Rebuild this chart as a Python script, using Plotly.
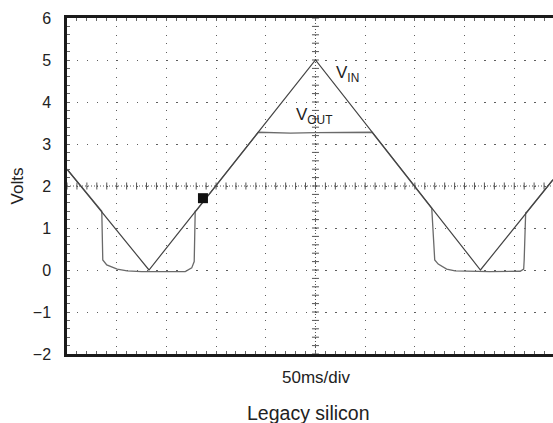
import numpy as np
import plotly.graph_objects as go

# Time base: 50 ms per division; amplitude in volts
vin_t = [0, 82.5, 250, 416, 489]
vin_v = [2.40, 0.0, 5.0, 0.0, 2.15]

vout_t = [0, 35, 36, 40, 50.5, 60.5, 75, 101.5, 119, 125.5, 128, 129, 130,
          192.5, 225, 250, 275, 307, 367, 370, 373.5, 382, 390.5, 425, 456,
          459.5, 460, 461.5, 462.5, 489]
vout_v = [2.40, 1.40, 0.24, 0.12, 0.02, -0.02, -0.04, -0.03, -0.04, 0.05, 0.20,
          1.40, 1.41, 3.28, 3.26, 3.27, 3.27, 3.28, 1.47, 0.24, 0.14, 0.02,
          -0.02, -0.04, -0.03, 0.02, 0.24, 1.36, 1.38, 2.15]

trig_t = [136.8]
trig_v = [1.71]

y_ticks = [-2, -1, 0, 1, 2, 3, 4, 5, 6]
x_range = [0, 489]
y_range = [-2, 6]
center_t = 250
center_v = 2

FONT = "Liberation Sans, Arial, Helvetica, sans-serif"
INK = "#222222"
GRID = "#5e5e5e"

fig = go.Figure()

# graticule centre cross with its fine division marks
fig.add_shape(type="line", x0=x_range[0], x1=x_range[1], y0=center_v, y1=center_v,
              line=dict(color="#555555", width=1, dash="1px,2px"), layer="below")
fig.add_shape(type="line", x0=center_t, x1=center_t, y0=y_range[0], y1=y_range[1],
              line=dict(color="#555555", width=1, dash="1px,2px"), layer="below")
ht = np.arange(0, 490, 10)
fig.add_trace(go.Scatter(x=ht, y=[center_v] * len(ht), mode="markers", hoverinfo="skip",
                         marker=dict(symbol="line-ns", size=5,
                                     line=dict(color="#555555", width=1)),
                         showlegend=False))
vt = np.arange(-2, 6.01, 0.2)
fig.add_trace(go.Scatter(x=[center_t] * len(vt), y=vt, mode="markers", hoverinfo="skip",
                         marker=dict(symbol="line-ew", size=5,
                                     line=dict(color="#555555", width=1)),
                         showlegend=False))

# waveforms
fig.add_trace(go.Scatter(x=vout_t, y=vout_v, mode="lines", name="VOUT",
                         line=dict(color="#6a6a6a", width=1.3), showlegend=False))
fig.add_trace(go.Scatter(x=vin_t, y=vin_v, mode="lines", name="VIN",
                         line=dict(color="#444444", width=1.2), showlegend=False))

# trigger marker
fig.add_trace(go.Scatter(x=trig_t, y=trig_v, mode="markers", showlegend=False,
                         marker=dict(symbol="square", size=10, color="#111111")))

fig.add_annotation(x=268.6, y=4.67, xref="x", yref="y", text="V<sub>IN</sub>",
                   showarrow=False, xanchor="left", yanchor="middle",
                   font=dict(family=FONT, size=17, color=INK))
fig.add_annotation(x=228.4, y=3.66, xref="x", yref="y", text="V<sub>OUT</sub>",
                   showarrow=False, xanchor="left", yanchor="middle",
                   font=dict(family=FONT, size=17, color=INK))

fig.add_annotation(x=251.5, y=-0.0714, xref="x", yref="paper", text="50ms/div",
                   showarrow=False, xanchor="center", yanchor="middle",
                   font=dict(family=FONT, size=17, color=INK))
fig.add_annotation(x=242.5, y=-0.1747, xref="x", yref="paper", text="Legacy silicon",
                   showarrow=False, xanchor="center", yanchor="middle",
                   font=dict(family=FONT, size=19.5, color=INK))

fig.update_layout(
    width=553, height=423,
    margin=dict(l=67, r=0, t=18, b=69),
    paper_bgcolor="white", plot_bgcolor="white",
    font=dict(family=FONT, color=INK),
    xaxis=dict(range=x_range, dtick=50, tick0=0, showticklabels=False,
               showline=True, linewidth=2.5, linecolor="#1a1a1a", mirror="allticks",
               ticks="inside", ticklen=3, tickcolor="#666666",
               minor=dict(dtick=10, ticks="inside", ticklen=3, tickcolor="#666666",
                          showgrid=False),
               showgrid=True, gridcolor=GRID, gridwidth=1, griddash="1px,7.4px",
               zeroline=False, fixedrange=True),
    yaxis=dict(range=y_range, tickvals=y_ticks, showline=True, linewidth=2.5,
               linecolor="#1a1a1a", ticks="inside", ticklen=3, tickcolor="#666666",
               minor=dict(dtick=0.2, tick0=0, ticks="inside", ticklen=3,
                          tickcolor="#666666", showgrid=False),
               showgrid=True, gridcolor=GRID, gridwidth=1, griddash="1.5px,8.44px",
               zeroline=False, ticklabelstandoff=10,
               tickfont=dict(family=FONT, size=16, color=INK),
               title=dict(text="Volts", standoff=5,
                          font=dict(family=FONT, size=17, color=INK)),
               fixedrange=True),
)

fig.write_html("out.html")
